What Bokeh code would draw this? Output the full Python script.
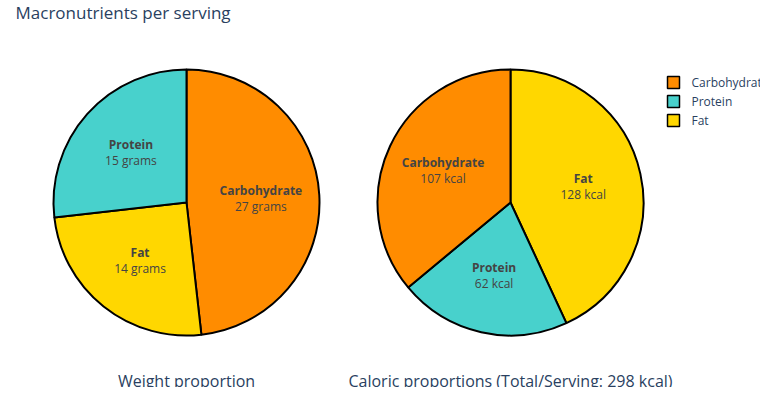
import math
from bokeh.plotting import figure
from bokeh.models import ColumnDataSource
from bokeh.core.properties import value
from bokeh.embed import file_html
from bokeh.resources import INLINE

title = "Macronutrients per serving"
categories = ["Carbohydrate", "Protein", "Fat"]
colors = ["#FF8C00", "#48D1CC", "#FFD700"]
# pie 1: weight (grams), in clockwise order from top
w_names = ["Carbohydrate", "Fat", "Protein"]
w_vals = [27, 14, 15]
w_units = "grams"
# pie 2: calories, in clockwise order from top
c_names = ["Fat", "Protein", "Carbohydrate"]
c_vals = [128, 62, 107]
c_units = "kcal"
subtitles = ["Weight proportion", "Caloric proportions (Total/Serving: 298 kcal)"]

W, H = 760, 387
p = figure(width=W, height=H, x_range=(0, W), y_range=(0, H), output_backend="svg",
           toolbar_location=None, min_border=0)
p.axis.visible = False
p.grid.visible = False
p.outline_line_color = None
FONT = value("Open Sans")
cmap = dict(zip(categories, colors))

def pie(cx, cy, r, names, vals, units, sub):
    tot = sum(vals)
    s, e, cols, lx, ly, vt = [], [], [], [], [], []
    cum = 0
    for n, v in zip(names, vals):
        a0 = math.pi / 2 - 2 * math.pi * cum / tot
        cum += v
        a1 = math.pi / 2 - 2 * math.pi * cum / tot
        s.append(a0); e.append(a1); cols.append(cmap[n])
        m = (a0 + a1) / 2
        lx.append(cx + 0.56 * r * math.cos(m)); ly.append(cy + 0.56 * r * math.sin(m))
        vt.append(f"{v} {units}")
    src = ColumnDataSource(dict(s=s, e=e, c=cols, lx=lx, ly=ly, n=names, vt=vt,
                                ly1=[y + 8 for y in ly], ly2=[y - 8 for y in ly]))
    p.wedge(x=cx, y=cy, radius=r, start_angle="s", end_angle="e", direction="clock",
            fill_color="c", line_color="black", line_width=2, source=src)
    p.text(x="lx", y="ly1", text="n", source=src, text_font=FONT, text_font_style="bold",
           text_font_size="12px", text_color="#444444", text_align="center", text_baseline="middle")
    p.text(x="lx", y="ly2", text="vt", source=src, text_font=FONT,
           text_font_size="12px", text_color="#444444", text_align="center", text_baseline="middle")
    p.text(x=[cx], y=[7], text=[sub], text_font=FONT, text_font_size="16px",
           text_color="#2a3f5f", text_align="center", text_baseline="middle")

pie(186, 185, 133, w_names, w_vals, w_units, subtitles[0])
pie(510, 185, 133, c_names, c_vals, c_units, subtitles[1])

p.text(x=[15], y=[H - 12], text=[title], text_font=FONT, text_font_size="17px",
       text_color="#2a3f5f", text_align="left", text_baseline="middle")

ly = [H - 82 - 19 * i for i in range(len(categories))]
p.rect(x=[673] * 3, y=ly, width=12, height=12, fill_color=colors, line_color="black", line_width=1.5)
p.text(x=[691] * 3, y=ly, text=categories, text_font=FONT, text_font_size="12px",
       text_color="#2a3f5f", text_align="left", text_baseline="middle")

open("out.html", "w").write(file_html(p, INLINE))
